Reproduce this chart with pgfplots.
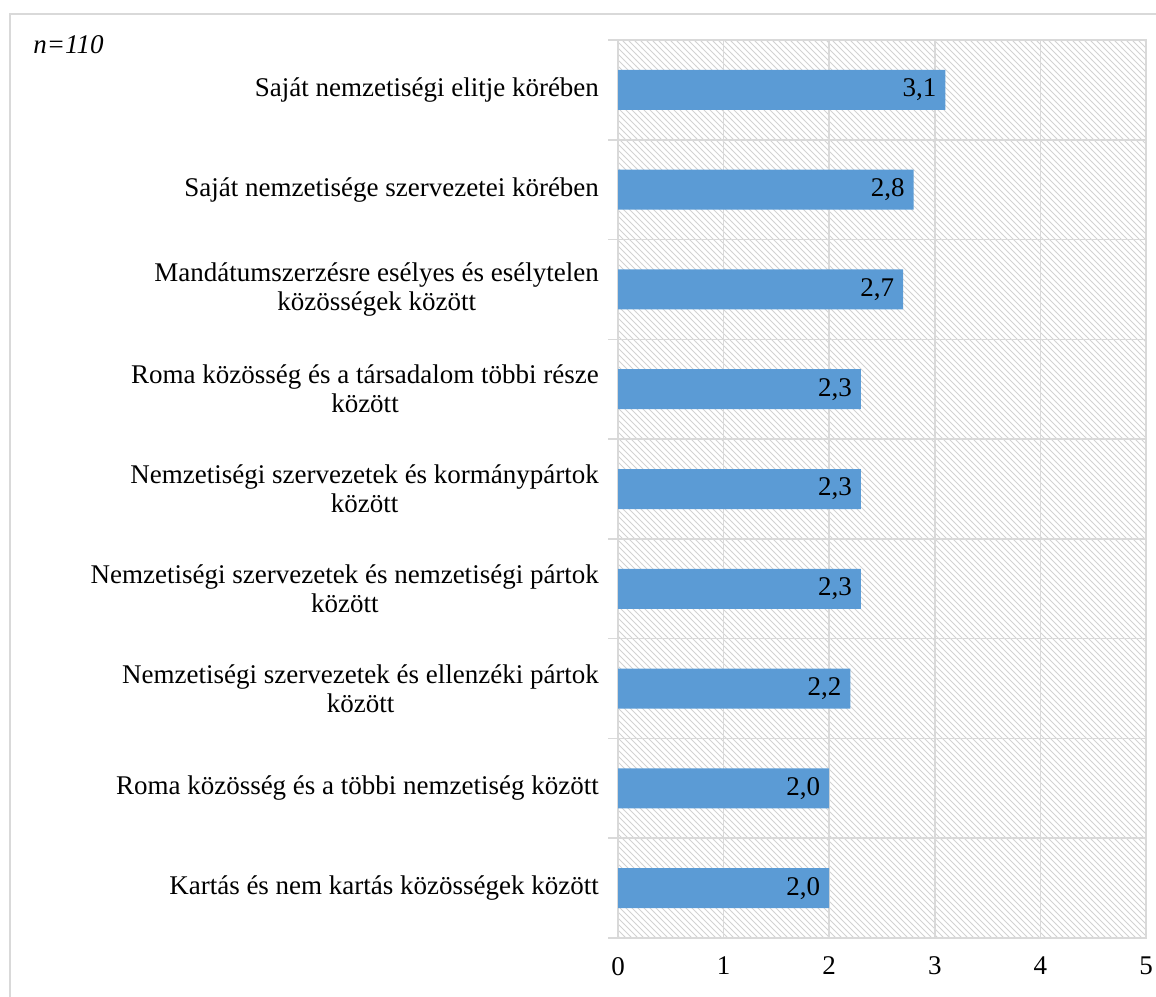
\documentclass[border=0pt]{standalone}
\usepackage{fontspec}
\setmainfont{Liberation Serif}
\usepackage{pgfplots}
\pgfplotsset{compat=1.18}
\usetikzlibrary{patterns}
\definecolor{barblue}{HTML}{5B9BD5}
\definecolor{gridgray}{HTML}{D9D9D9}
\definecolor{hatchgray}{HTML}{D2D2D2}
\begin{document}
\begin{tikzpicture}
\useasboundingbox (0,0) rectangle (578pt,498pt);
\begin{scope}
\clip (0,0) rectangle (578pt,498pt);
\draw[gridgray, line width=1pt] (5pt,-10pt) -- (5pt,491pt) -- (600pt,491pt);
\end{scope}
\node[anchor=west, inner sep=0pt, font=\fontsize{13.5}{14.5}\selectfont\itshape] at (16.5pt,475.5pt) {n=110};
\begin{axis}[
  at={(309pt,29pt)}, anchor=south west,
  scale only axis, width=264pt, height=449pt,
  xmin=0, xmax=5, ymin=-0.5, ymax=8.5, y dir=reverse,
  xbar, bar width=20pt,
  axis background/.style={pattern=north west lines, pattern color=hatchgray},
  axis line style={gridgray, line width=0.8pt},
  xtick={0,1,2,3,4,5},
  ytick={0,...,8},
  ytick pos=left, xtick pos=bottom,
  major tick length=0pt,
  minor ytick={-0.5,0.5,...,8.5},
  minor tick length=5pt,
  tick align=outside,
  minor tick style={gridgray, line width=0.8pt},
  xmajorgrids, yminorgrids,
  grid style={gridgray, line width=0.8pt},
  minor grid style={gridgray, line width=0.8pt},
  /pgf/number format/assume math mode=true,
  /pgf/number format/use comma,
  ticklabel style={font=\fontsize{13.5}{14.5}\selectfont},
  xticklabel style={yshift=-6pt},
  yticklabel style={align=center, xshift=-6pt},
  yticklabels={
    Saját nemzetiségi elitje körében,
    Saját nemzetisége szervezetei körében,
    {Mandátumszerzésre esélyes és esélytelen\\közösségek között},
    {Roma közösség és a társadalom többi része\\között},
    {Nemzetiségi szervezetek és kormánypártok\\között},
    {Nemzetiségi szervezetek és nemzetiségi pártok\\között},
    {Nemzetiségi szervezetek és ellenzéki pártok\\között},
    Roma közösség és a többi nemzetiség között,
    Kartás és nem kartás közösségek között},
  nodes near coords={\pgfmathprintnumber[fixed, fixed zerofill, precision=1, use comma, assume math mode=true]{\pgfplotspointmeta}},
  every node near coord/.append style={anchor=east, xshift=-1pt, font=\fontsize{13.5}{14.5}\selectfont, black},
]
\addplot[fill=barblue, draw=none] coordinates {
  (3.1,0) (2.8,1) (2.7,2) (2.3,3) (2.3,4) (2.3,5) (2.2,6) (2.0,7) (2.0,8)
};
\end{axis}
\end{tikzpicture}
\end{document}
